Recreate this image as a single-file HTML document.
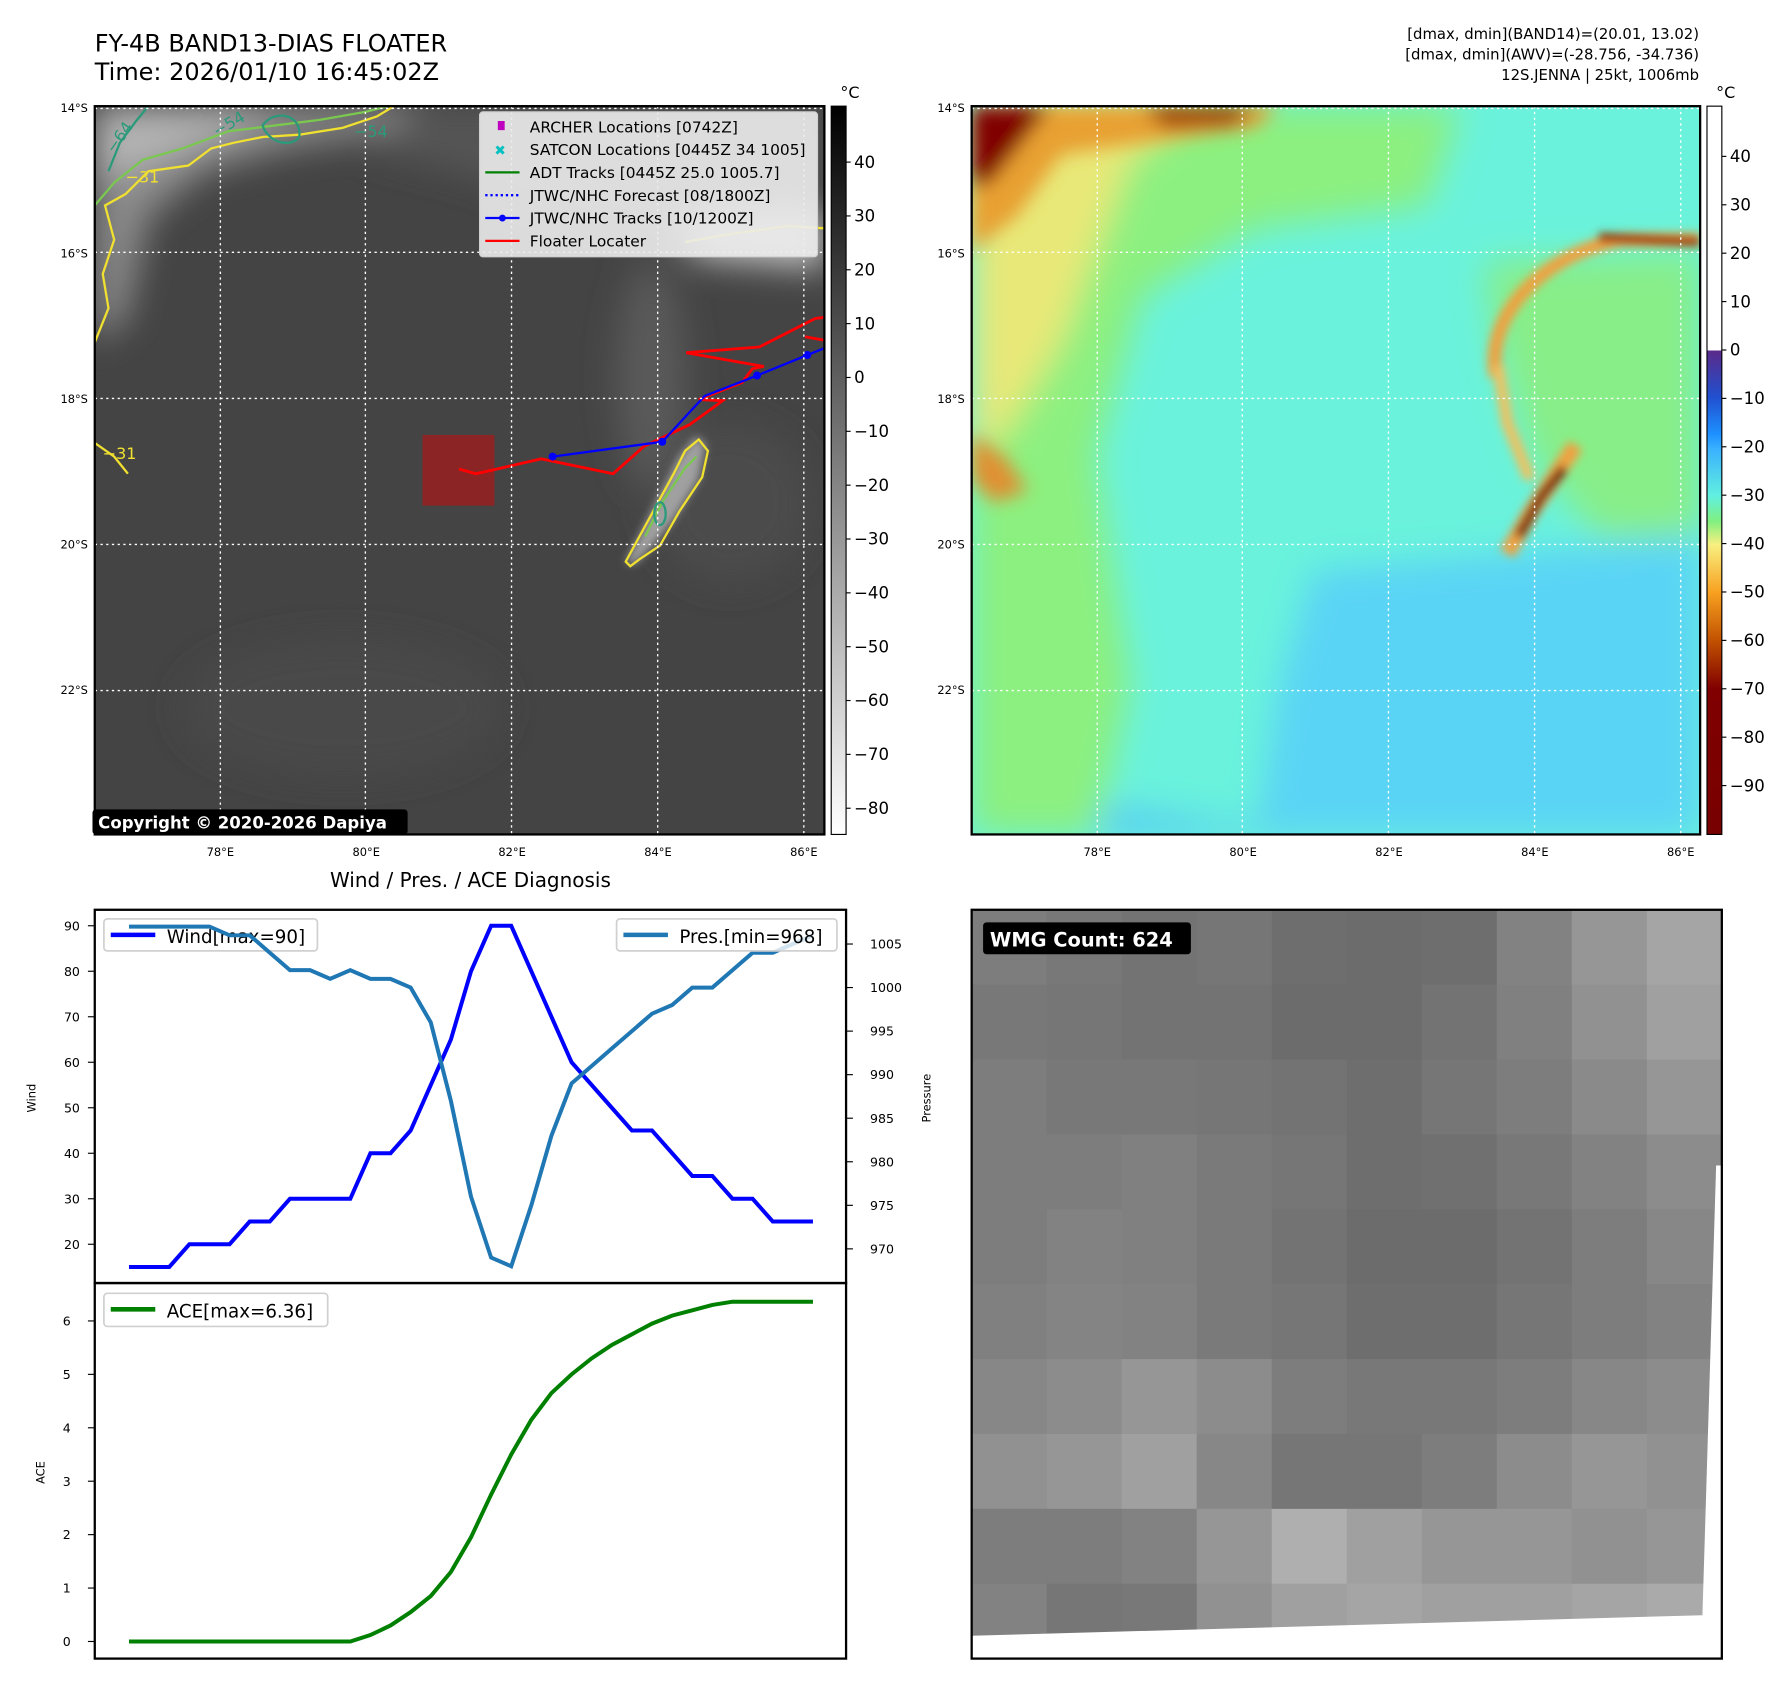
<!DOCTYPE html>
<html><head><meta charset="utf-8">
<style>
html,body{margin:0;padding:0;background:#fff;width:1788px;height:1695px;overflow:hidden}
#wrap{position:absolute;left:0;top:0;width:1566px;height:1485px;transform:scale(1.1418,1.1415);transform-origin:0 0;font-family:"DejaVu Sans","Liberation Sans",sans-serif}
svg text{font-family:"DejaVu Sans","Liberation Sans",sans-serif}
</style></head><body>
<div id="wrap">
<svg id="fig" width="1566" height="1485" viewBox="0 0 1566 1485" xmlns="http://www.w3.org/2000/svg">
<defs>
<filter id="b8" x="-20%" y="-20%" width="140%" height="140%"><feGaussianBlur stdDeviation="8"/></filter>
<filter id="b4" x="-20%" y="-20%" width="140%" height="140%"><feGaussianBlur stdDeviation="4"/></filter>
<filter id="b15" x="-30%" y="-30%" width="160%" height="160%"><feGaussianBlur stdDeviation="15"/></filter>
<clipPath id="c1"><rect x="83" y="93" width="639" height="638"/></clipPath>
<clipPath id="c2"><rect x="851" y="93" width="638" height="638"/></clipPath>
<linearGradient id="gcb" x1="0" y1="0" x2="0" y2="1"><stop offset="0" stop-color="#000"/><stop offset="1" stop-color="#fff"/></linearGradient>
<linearGradient id="ccb" x1="0" y1="93" x2="0" y2="731" gradientUnits="userSpaceOnUse">
<stop offset="0" stop-color="#fff"/><stop offset="0.335" stop-color="#fff"/><stop offset="0.336" stop-color="#5a2a8a"/>
<stop offset="0.40" stop-color="#2050d0"/><stop offset="0.45" stop-color="#1e90ff"/><stop offset="0.47" stop-color="#3ab0ff"/>
<stop offset="0.535" stop-color="#60f0e0"/><stop offset="0.57" stop-color="#80f080"/><stop offset="0.602" stop-color="#f8f080"/>
<stop offset="0.668" stop-color="#f8a020"/><stop offset="0.735" stop-color="#c05000"/><stop offset="0.80" stop-color="#800000"/><stop offset="1" stop-color="#780000"/>
</linearGradient>
</defs>

<text x="83" y="45" font-size="21">FY-4B BAND13-DIAS FLOATER</text>
<text x="83" y="70" font-size="21">Time: 2026/01/10 16:45:02Z</text>
<g font-size="13" text-anchor="end">
<text x="1488" y="34">[dmax, dmin](BAND14)=(20.01, 13.02)</text>
<text x="1488" y="52">[dmax, dmin](AWV)=(-28.756, -34.736)</text>
<text x="1488" y="70">12S.JENNA | 25kt, 1006mb</text>
</g>

<g clip-path="url(#c1)">
<rect x="83" y="93" width="639" height="638" fill="#444"/>
<g filter="url(#b15)">
<path d="M83,93 L370,93 L340,115 L250,130 L180,150 L130,190 L110,280 L83,300 Z" fill="#8a8a8a"/>
<path d="M83,93 L250,93 L200,115 L140,140 L83,160Z" fill="#b4b4b4"/>
<path d="M370,93 L720,93 L720,230 L600,220 L520,190 L400,150 L320,130Z" fill="#555"/>
<path d="M600,195 L722,190 L722,235 L610,225Z" fill="#c8c8c8"/>
<ellipse cx="570" cy="330" rx="30" ry="100" fill="#5a5a5a"/>
<ellipse cx="300" cy="620" rx="140" ry="60" fill="#4a4a4a"/>
<ellipse cx="640" cy="440" rx="70" ry="70" fill="#4c4c4c"/>
</g>
<path d="M548,492 L560,470 L575,440 L595,400 L610,382 L618,390 L612,420 L590,455 L570,480 L555,495Z" fill="#a0a0a0" filter="url(#b4)"/>
<g fill="none" stroke-width="2">
<path d="M83,300 L95,270 L90,240 L100,210 L92,180 L110,170 L130,150 L165,145 L185,130 L205,125 L230,120 L262,118 L300,112 L330,102 L345,93" stroke="#f0e030"/>
<path d="M83,180 L100,160 L125,140 L160,130 L200,115 L240,110 L280,105 L320,98 L340,93" stroke="#7ac850"/>
<path d="M95,150 L105,125 L120,105 L130,93" stroke="#2a9a7a"/>
<path d="M230,110 C240,95 265,100 262,120 C255,130 235,125 230,110Z" stroke="#2a9a7a"/>
<path d="M600,212 L640,205 L690,198 L722,200" stroke="#f0e030"/>
<path d="M83,388 L100,400 L112,415" stroke="#f0e030"/>
<path d="M548,492 L560,470 L572,448 L590,415 L600,395 L612,385 L620,395 L615,418 L595,448 L578,478 L560,490 L552,496Z" stroke="#f0e030"/>
<path d="M565,470 L580,440 L600,410 L610,400" stroke="#7ac850"/>
<ellipse cx="578" cy="450" rx="5" ry="10" stroke="#2a9a7a"/>
</g>
<g font-size="14" fill="#f0e030"><text x="110" y="160">−31</text><text x="90" y="402">−31</text></g>
<g font-size="14" fill="#2a9a7a"><text x="190" y="120" transform="rotate(-30 190 120)">−54</text><text x="310" y="120">−54</text><text x="100" y="135" transform="rotate(-55 100 135)">−64</text></g>
<rect x="370" y="381" width="63" height="62" fill="#8b2525"/>
<polyline fill="none" stroke="#ff0000" stroke-width="2.5" points="402,411 417,415 474,402 537,415 564,391 604,372 633,351 612,350 650,335 659,323 669,321 601,309 665,304 714,279 722,278"/>
<polyline fill="none" stroke="#ff0000" stroke-width="2.5" points="705,295 722,298"/>
<polyline fill="none" stroke="#0000ff" stroke-width="2" points="484,400 580,387 617,347 663,329 707,311 722,305"/>
<g fill="#0000ff"><circle cx="484" cy="400" r="3.5"/><circle cx="580" cy="387" r="3.5"/><circle cx="663" cy="329" r="3.5"/><circle cx="707" cy="311" r="3.5"/></g>
<g stroke="#fff" stroke-width="1.2" stroke-dasharray="2,3">
<line x1="193" y1="93" x2="193" y2="731"/><line x1="320" y1="93" x2="320" y2="731"/><line x1="448" y1="93" x2="448" y2="731"/><line x1="576" y1="93" x2="576" y2="731"/><line x1="704" y1="93" x2="704" y2="731"/>
<line x1="83" y1="95" x2="722" y2="95"/><line x1="83" y1="221" x2="722" y2="221"/><line x1="83" y1="349" x2="722" y2="349"/><line x1="83" y1="477" x2="722" y2="477"/><line x1="83" y1="605" x2="722" y2="605"/>
</g>
</g>
<rect x="83" y="93" width="639" height="638" fill="none" stroke="#000" stroke-width="2"/>
<g>
<rect x="420" y="98" width="296" height="127" rx="3" fill="#ececec" fill-opacity="0.9" stroke="#d0d0d0"/>
<g font-size="13.5">
<rect x="436" y="106" width="6" height="8" fill="#c000c0"/><text x="464" y="116">ARCHER Locations [0742Z]</text>
<text x="433" y="136" fill="#00c0c0" font-size="12" font-weight="bold">✖</text><text x="464" y="136">SATCON Locations [0445Z 34 1005]</text>
<line x1="425" y1="151" x2="455" y2="151" stroke="#008000" stroke-width="2"/><text x="464" y="156">ADT Tracks [0445Z 25.0 1005.7]</text>
<line x1="425" y1="171" x2="455" y2="171" stroke="#0000ff" stroke-width="2" stroke-dasharray="2,2.5"/><text x="464" y="176">JTWC/NHC Forecast [08/1800Z]</text>
<line x1="425" y1="191" x2="455" y2="191" stroke="#0000ff" stroke-width="2"/><circle cx="440" cy="191" r="3" fill="#0000ff"/><text x="464" y="196">JTWC/NHC Tracks [10/1200Z]</text>
<line x1="425" y1="211" x2="455" y2="211" stroke="#ff0000" stroke-width="2"/><text x="464" y="216">Floater Locater</text>
</g></g>
<rect x="81" y="709" width="276" height="22" rx="3" fill="#000"/>
<text x="86" y="726" font-size="14.5" font-weight="bold" fill="#fff">Copyright © 2020-2026 Dapiya</text>

<rect x="728" y="93" width="13" height="638" fill="url(#gcb)" stroke="#000"/>
<text x="736" y="86" font-size="14">°C</text>
<g id="lcbt" font-size="14.5"></g>
<g id="geolab" font-size="10"></g>

<g clip-path="url(#c2)">
<rect x="851" y="93" width="638" height="638" fill="#6af2dc"/>
<g filter="url(#b15)">
<path d="M1150,500 L1489,470 L1489,731 L1100,731 L1120,600Z" fill="#5ad4f5"/>
<path d="M851,700 L1000,710 L1150,731 L851,731Z" fill="#55c8f5"/>
<path d="M851,93 L1280,93 L1250,180 L1100,200 L1000,260 L960,400 L990,600 L960,731 L851,731Z" fill="#8cf080"/>
<path d="M1300,230 L1489,220 L1489,470 L1400,470 L1340,400 L1310,300Z" fill="#88ee88"/>
<path d="M851,93 L1050,93 L990,140 L960,220 L930,300 L880,380 L851,400Z" fill="#e8e878"/>
</g>
<g filter="url(#b8)">
<path d="M851,93 L1120,93 L1100,112 L1000,125 L930,135 L890,190 L851,220Z" fill="#e8a030"/>
<path d="M851,93 L920,93 L895,125 L868,160 L851,165Z" fill="#800000"/>
<path d="M1000,93 L1100,93 L1080,110 L1020,112Z" fill="#a04000"/>
<path d="M851,380 L880,400 L900,430 L870,440 L851,420Z" fill="#e09030"/>
</g>
<g fill="none" filter="url(#b4)">
<path d="M1310,330 C1300,270 1360,220 1420,210 L1489,210" stroke="#f0a040" stroke-width="12"/>
<path d="M1400,208 L1489,212" stroke="#a03000" stroke-width="8"/>
<path d="M1312,320 L1320,370 L1340,420" stroke="#f0c060" stroke-width="10"/>
<path d="M1320,485 L1340,450 L1360,420 L1380,390" stroke="#f0a040" stroke-width="14"/>
<path d="M1330,470 L1350,435 L1370,410" stroke="#6a0000" stroke-width="8"/>
</g>
<g stroke="#fff" stroke-width="1.2" stroke-dasharray="2,3">
<line x1="961" y1="93" x2="961" y2="731"/><line x1="1088" y1="93" x2="1088" y2="731"/><line x1="1216" y1="93" x2="1216" y2="731"/><line x1="1344" y1="93" x2="1344" y2="731"/><line x1="1472" y1="93" x2="1472" y2="731"/>
<line x1="851" y1="95" x2="1489" y2="95"/><line x1="851" y1="221" x2="1489" y2="221"/><line x1="851" y1="349" x2="1489" y2="349"/><line x1="851" y1="477" x2="1489" y2="477"/><line x1="851" y1="605" x2="1489" y2="605"/>
</g>
</g>
<rect x="851" y="93" width="638" height="638" fill="none" stroke="#000" stroke-width="2"/>
<rect x="1495" y="93" width="13" height="638" fill="url(#ccb)" stroke="#000"/>
<text x="1503" y="86" font-size="14">°C</text>
<g id="rcbt" font-size="14.5"></g>

<text x="412" y="777" font-size="17.5" text-anchor="middle">Wind / Pres. / ACE Diagnosis</text>
<g id="chart"></g>
<g id="wmg"></g>
</svg>
</div>
<script>
const lonLabels=["78°E","80°E","82°E","84°E","86°E"];
const latLabels=["14°S","16°S","18°S","20°S","22°S"];
const irTicks=[40,30,20,10,0,-10,-20,-30,-40,-50,-60,-70,-80];
const wvTicks=[40,30,20,10,0,-10,-20,-30,-40,-50,-60,-70,-80,-90];
const windVals=[15,15,15,20,20,20,25,25,30,30,30,30,40,40,45,55,65,80,90,90,80,70,60,55,50,45,45,40,35,35,30,30,25,25,25];
const presVals=[1007,1007,1007,1007,1007,1006,1006,1004,1002,1002,1001,1002,1001,1001,1000,996,987,976,969,968,975,983,989,991,993,995,997,998,1000,1000,1002,1004,1004,1005,1006];
const aceVals=[0,0,0,0,0,0,0,0,0,0,0,0,0.12,0.3,0.55,0.85,1.3,1.95,2.75,3.5,4.15,4.65,5.0,5.3,5.55,5.75,5.95,6.1,6.2,6.3,6.36,6.36,6.36,6.36,6.36];
const windTicks=[20,30,40,50,60,70,80,90];
const presTicks=[970,975,980,985,990,995,1000,1005];
const aceTicks=[0,1,2,3,4,5,6];
const wmgGrid=[
[125,120,115,118,110,108,110,130,150,165],
[120,118,115,115,108,108,115,128,145,160],
[125,120,120,118,115,110,118,125,138,150],
[125,125,128,122,118,110,112,120,130,140],
[125,130,128,122,115,108,108,115,125,135],
[128,132,130,122,118,110,110,118,125,130],
[135,140,150,140,125,120,120,125,135,140],
[145,150,160,135,118,118,125,140,150,145],
[125,125,130,150,175,160,150,150,145,150],
[130,118,120,145,160,165,160,160,165,170]];

const NS="http://www.w3.org/2000/svg";
function mk(tag,attrs,parent,txt){const e=document.createElementNS(NS,tag);for(const k in attrs)e.setAttribute(k,attrs[k]);if(txt!==undefined)e.textContent=txt;parent.appendChild(e);return e;}

const lcb=document.getElementById('lcbt');
const irY=v=>142+(40-v)*4.717;
irTicks.forEach(v=>{mk('line',{x1:741,x2:745,y1:irY(v),y2:irY(v),stroke:'#000'},lcb);
const t=mk('text',{x:748,y:irY(v)+5},lcb,v<0?'−'+(-v):String(v));

});
const rcb=document.getElementById('rcbt');
const wvY=v=>137+(40-v)*4.24;
wvTicks.forEach(v=>{mk('line',{x1:1508,x2:1512,y1:wvY(v),y2:wvY(v),stroke:'#000'},rcb);
const t=mk('text',{x:1515,y:wvY(v)+5},rcb,v<0?'−'+(-v):String(v));

});
const geo=document.getElementById('geolab');
const lonX=i=>193+i*127.75, latY=i=>95+i*127.5;
[0,768].forEach(off=>{
lonLabels.forEach((s,i)=>{const t=mk('text',{x:lonX(i)+off,y:750,'text-anchor':'middle'},geo,s);

});
latLabels.forEach((s,i)=>{const t=mk('text',{x:77+off,y:latY(i)+3,'text-anchor':'end'},geo,s);

});
});

const ch=document.getElementById('chart');
const n=windVals.length;
const xS=i=>113+i*(599/(n-1));
const wY=v=>811+(90-v)*3.986;
const pY=v=>827+(1005-v)*7.63;
const aY=v=>1438-v*46.8;
mk('rect',{x:83,y:797,width:658,height:327,fill:'none',stroke:'#000','stroke-width':2},ch);
mk('rect',{x:83,y:1124,width:658,height:329,fill:'none',stroke:'#000','stroke-width':2},ch);
windTicks.forEach(v=>{mk('line',{x1:77,x2:83,y1:wY(v),y2:wY(v),stroke:'#000'},ch);
const t=mk('text',{x:70,y:wY(v)+4,'font-size':11,'text-anchor':'end'},ch,String(v));

});
presTicks.forEach(v=>{mk('line',{x1:741,x2:747,y1:pY(v),y2:pY(v),stroke:'#000'},ch);
const t=mk('text',{x:762,y:pY(v)+4,'font-size':11},ch,String(v));

});
aceTicks.forEach(v=>{mk('line',{x1:77,x2:83,y1:aY(v),y2:aY(v),stroke:'#000'},ch);
const t=mk('text',{x:62,y:aY(v)+4,'font-size':11,'text-anchor':'end'},ch,String(v));

});
let e;
e=mk('text',{x:31,y:962,'font-size':10,'text-anchor':'middle',transform:'rotate(-90 31 962)'},ch,'Wind');

e=mk('text',{x:815,y:962,'font-size':10,'text-anchor':'middle',transform:'rotate(-90 815 962)'},ch,'Pressure');

e=mk('text',{x:39,y:1290,'font-size':10,'text-anchor':'middle',transform:'rotate(-90 39 1290)'},ch,'ACE');

mk('rect',{x:91,y:805,width:187,height:28,rx:3,fill:'#fff','fill-opacity':0.8,stroke:'#d0d0d0','stroke-width':1.5},ch);
mk('line',{x1:97,x2:136,y1:819,y2:819,stroke:'#0000ff','stroke-width':4},ch);
e=mk('text',{x:146,y:826,'font-size':16},ch,'Wind[max=90]');

const wl=mk('polyline',{points:windVals.map((v,i)=>xS(i)+','+wY(v)).join(' '),fill:'none',stroke:'#0000ff','stroke-width':3.5},ch);


const pl=mk('polyline',{points:presVals.map((v,i)=>xS(i)+','+pY(v)).join(' '),fill:'none',stroke:'#1f77b4','stroke-width':3.5},ch);


mk('rect',{x:540,y:805,width:193,height:28,rx:3,fill:'#fff','fill-opacity':0.8,stroke:'#d0d0d0','stroke-width':1.5},ch);
mk('line',{x1:546,x2:585,y1:819,y2:819,stroke:'#1f77b4','stroke-width':4},ch);
e=mk('text',{x:595,y:826,'font-size':16},ch,'Pres.[min=968]');

const al=mk('polyline',{points:aceVals.map((v,i)=>xS(i)+','+aY(v)).join(' '),fill:'none',stroke:'#008000','stroke-width':3.5},ch);


mk('rect',{x:91,y:1133,width:196,height:29,rx:3,fill:'#fff','fill-opacity':0.8,stroke:'#d0d0d0','stroke-width':1.5},ch);
mk('line',{x1:97,x2:136,y1:1147,y2:1147,stroke:'#008000','stroke-width':4},ch);
e=mk('text',{x:146,y:1154,'font-size':16},ch,'ACE[max=6.36]');


const wg=document.getElementById('wmg');
const gx0=851,gy0=797,gw=657,gh=656;
const rows=wmgGrid.length,cols=wmgGrid[0].length;
wmgGrid.forEach((row,r)=>row.forEach((g,c)=>{
const cell=mk('rect',{x:gx0+c*gw/cols,y:gy0+r*gh/rows,width:gw/cols+0.5,height:gh/rows+0.5,fill:'rgb('+g+','+g+','+g+')'},wg);


}));
mk('polygon',{points:'851,1433 1491,1415 1503,1021 1508,1021 1508,1453 851,1453',fill:'#fff'},wg);
mk('rect',{x:851,y:797,width:657,height:656,fill:'none',stroke:'#000','stroke-width':2},wg);
mk('rect',{x:861,y:808,width:182,height:28,rx:3,fill:'#000'},wg);
e=mk('text',{x:867,y:829,'font-size':17,'font-weight':'bold',fill:'#fff'},wg,'WMG Count: 624');

</script>
</body></html>
